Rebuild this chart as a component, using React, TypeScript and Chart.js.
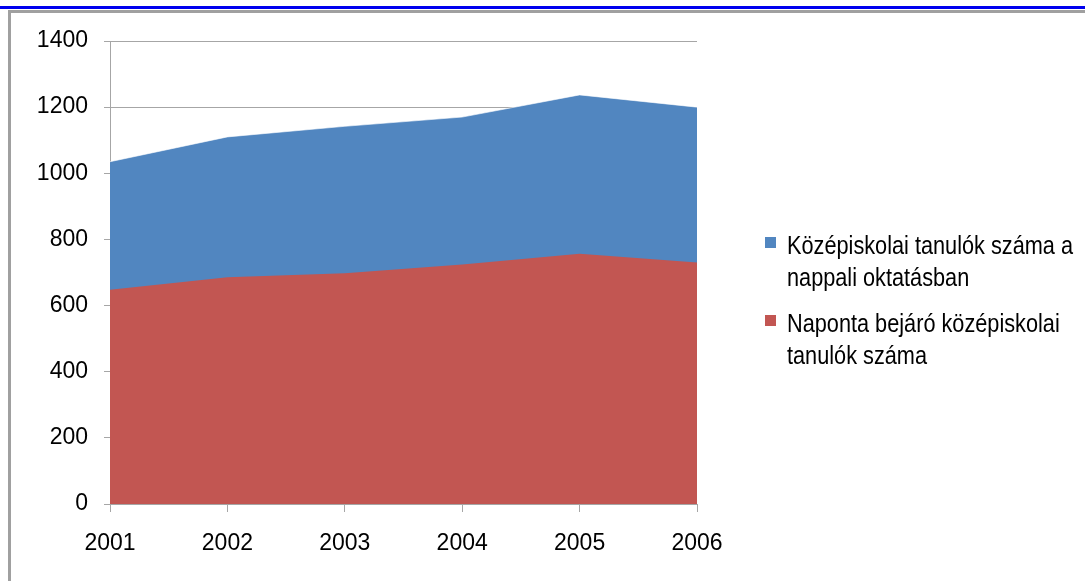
import React, { useEffect, useRef } from "react";
import { Chart, registerables } from "chart.js";

Chart.register(...registerables);

const years: string[] = ["2001", "2002", "2003", "2004", "2005", "2006"];
const totalStudents: number[] = [1035, 1110, 1142, 1170, 1237, 1200];
const commuterStudents: number[] = [648, 686, 698, 724, 757, 730];
const seriesLabels: string[][] = [
  ["Középiskolai tanulók száma a", "nappali oktatásban"],
  ["Naponta bejáró középiskolai", "tanulók száma"],
];
const seriesColors: string[] = ["#5186C0", "#C25652"];

const FONT = '"Liberation Sans", Arial, sans-serif';
const GRID = "#a6a6a6";

export default function App() {
  const ref = useRef<HTMLCanvasElement | null>(null);

  useEffect(() => {
    document.body.style.margin = "0";
    const canvas = ref.current;
    if (!canvas) return;
    const chart = new Chart(canvas, {
      type: "line",
      data: {
        labels: years,
        datasets: [
          {
            label: seriesLabels[0].join(" "),
            data: totalStudents,
            backgroundColor: seriesColors[0],
            borderColor: "rgba(255,255,255,0.6)",
            borderWidth: 1,
            fill: "origin",
            pointRadius: 0,
            tension: 0,
            order: 2,
          },
          {
            label: seriesLabels[1].join(" "),
            data: commuterStudents,
            backgroundColor: seriesColors[1],
            borderColor: seriesColors[1],
            borderWidth: 0,
            fill: "origin",
            pointRadius: 0,
            tension: 0,
            order: 1,
          },
        ],
      },
      options: {
        responsive: false,
        animation: false,
        devicePixelRatio: 1,
        layout: { padding: { top: 41, right: 388, left: 0, bottom: 0 } },
        plugins: {
          legend: { display: false },
          title: { display: false },
          tooltip: { enabled: false },
        },
        scales: {
          x: {
            offset: false,
            afterFit: (s: any) => {
              s.height = 77;
            },
            grid: {
              display: true,
              drawOnChartArea: false,
              drawTicks: true,
              tickLength: 8,
              color: GRID,
            },
            border: { display: true, color: GRID, width: 1 },
            ticks: {
              color: "#000",
              padding: 18,
              maxRotation: 0,
              font: { family: FONT, size: 23 },
            },
          },
          y: {
            min: 0,
            max: 1400,
            afterFit: (s: any) => {
              s.width = 110;
            },
            grid: {
              color: GRID,
              tickLength: 6,
              drawTicks: true,
            },
            border: { display: true, color: GRID, width: 1 },
            ticks: {
              stepSize: 200,
              color: "#000",
              padding: 16,
              font: { family: FONT, size: 23 },
              callback: (v: any) => String(v),
            },
          },
        },
      },
    });
    return () => chart.destroy();
  }, []);

  const legendItem = (i: number, top: number) => (
    <div key={i} style={{ position: "absolute", left: 765, top }}>
      <div
        style={{
          position: "absolute",
          left: 0,
          top: 8,
          width: 11,
          height: 11,
          background: seriesColors[i],
        }}
      />
      <div
        style={{
          position: "absolute",
          left: 22,
          top: 0,
          whiteSpace: "nowrap",
          fontFamily: FONT,
          fontSize: 26,
          lineHeight: "32px",
          color: "#000",
          transform: "scaleX(0.835)",
          transformOrigin: "0 0",
        }}
      >
        {seriesLabels[i].map((t, k) => (
          <div key={k}>{t}</div>
        ))}
      </div>
    </div>
  );

  return (
    <div
      style={{
        position: "fixed",
        left: 0,
        top: 0,
        width: 1085,
        height: 581,
        overflow: "hidden",
        background: "#fff",
      }}
    >
      <div
        style={{
          position: "absolute",
          left: 0,
          top: 6,
          width: 1085,
          height: 3,
          background: "#0000ee",
        }}
      />
      <div
        style={{
          position: "absolute",
          left: 8,
          top: 10,
          width: 1200,
          height: 700,
          borderLeft: "3px solid #a0a0a0",
          borderTop: "3px solid #a0a0a0",
        }}
      />
      <canvas
        ref={ref}
        width={1085}
        height={581}
        style={{ position: "absolute", left: 0, top: 0, width: 1085, height: 581 }}
      />
      {legendItem(0, 229)}
      {legendItem(1, 307)}
    </div>
  );
}
